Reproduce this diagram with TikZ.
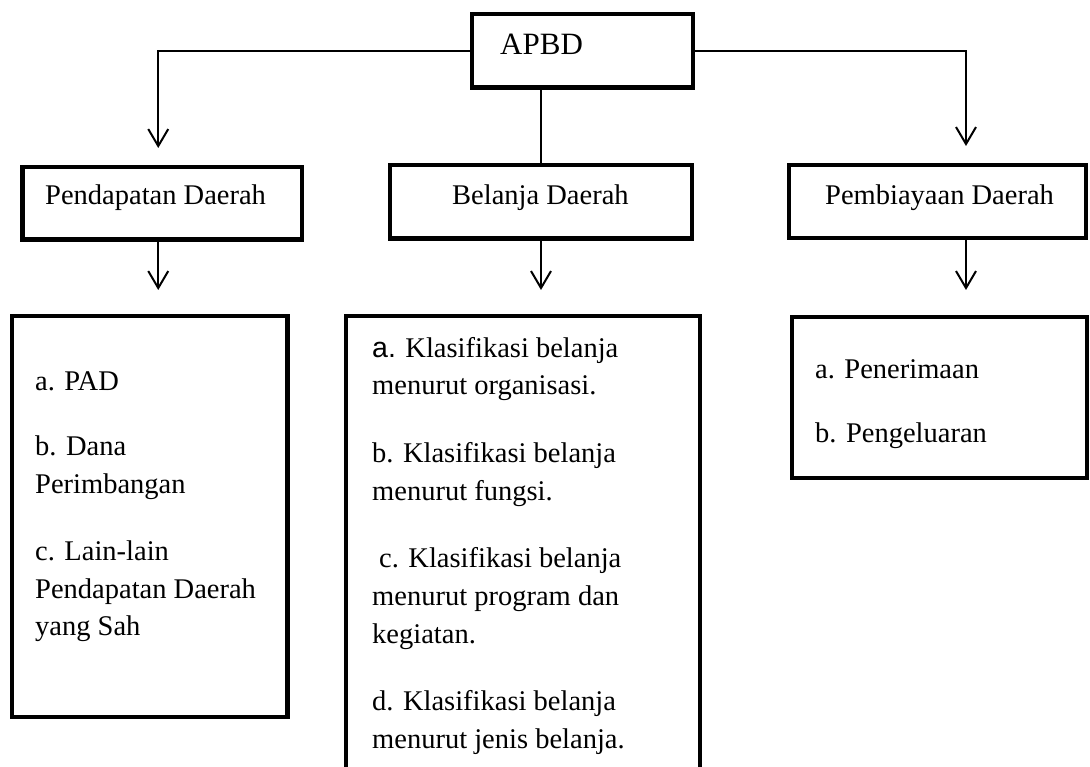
\documentclass[tikz,border=0pt]{standalone}
\usepackage{fontspec}
\setmainfont{Liberation Serif}
\newfontfamily\arialfont{Liberation Sans}
\usetikzlibrary{arrows.meta}
\begin{document}
\begin{tikzpicture}[x=1pt,y=-1pt,
  box/.style={draw,line width=4.5pt,rectangle,inner sep=0pt,outer sep=0pt},
  txt/.style={anchor=base west,inner sep=0pt,font=\fontsize{28.5}{38}\selectfont},
  conn/.style={line width=2pt},
  arr/.style={conn,-{Straight Barb[length=17pt,width=20pt,line width=2pt]}}]
\useasboundingbox (0,0) rectangle (1090,767);
% boxes
\node[box,minimum width=221pt,minimum height=73.5pt] (apbd) at (582.5,50.75) {};
\node[box,minimum width=279.5pt,minimum height=72.5pt] (pend) at (162.25,203.25) {};
\node[box,minimum width=302pt,minimum height=73.5pt] (bel) at (541,201.75) {};
\node[box,minimum width=297pt,minimum height=73pt] (pemb) at (937.5,201.5) {};
\node[box,minimum width=275.5pt,minimum height=401pt] (pendlist) at (149.75,516.5) {};
\node[box,minimum width=354pt,minimum height=480pt] (bellist) at (523,556) {};
\node[box,minimum width=295pt,minimum height=161pt] (pemblist) at (939.5,397.5) {};
% connectors
\draw[arr,shorten >=19pt] (apbd.west) -| ([xshift=-4pt]pend.north);
\draw[arr,shorten >=19pt] (apbd.east) -| ([xshift=28.5pt]pemb.north);
\draw[conn] (bel.north |- apbd.south) -- (bel.north);
\draw[arr,shorten >=26pt] ([xshift=-4pt]pend.south) -- ([xshift=-4pt]pend.south |- pendlist.north);
\draw[arr,shorten >=26pt] (bel.south) -- (bel.south |- bellist.north);
\draw[arr,shorten >=27pt] ([xshift=28.5pt]pemb.south) -- ([xshift=28.5pt]pemb.south |- pemblist.north);
% headings
\node[txt,font=\fontsize{31}{38}\selectfont] (tapbd) at (500,55) {APBD};
\node[txt] (tpend) at (45,205) {Pendapatan Daerah};
\node[txt] (tbel) at (452,205) {Belanja Daerah};
\node[txt] (tpemb) at (825,205) {Pembiayaan Daerah};
% Pendapatan list
\node[txt] (p1) at (35,390) {a. PAD};
\node[txt] (p2) at (35,455) {b. Dana};
\node[txt] (p3) at (35,493) {Perimbangan};
\node[txt] (p4) at (35,560) {c. Lain-lain};
\node[txt] (p5) at (35,598) {Pendapatan Daerah};
\node[txt] (p6) at (35,635) {yang Sah};
% Belanja list
\node[txt] (b1) at (372,357) {{\arialfont a.} Klasifikasi belanja};
\node[txt] (b2) at (372,395) {menurut organisasi.};
\node[txt] (b3) at (372,462) {b. Klasifikasi belanja};
\node[txt] (b4) at (372,500) {menurut fungsi.};
\node[txt] (b5) at (379,567) {c. Klasifikasi belanja};
\node[txt] (b6) at (372,605) {menurut program dan};
\node[txt] (b7) at (372,643) {kegiatan.};
\node[txt] (b8) at (372,710) {d. Klasifikasi belanja};
\node[txt] (b9) at (372,748) {menurut jenis belanja.};
% Pembiayaan list
\node[txt] (q1) at (815,378) {a. Penerimaan};
\node[txt] (q2) at (815,442) {b. Pengeluaran};
\end{tikzpicture}
\end{document}
